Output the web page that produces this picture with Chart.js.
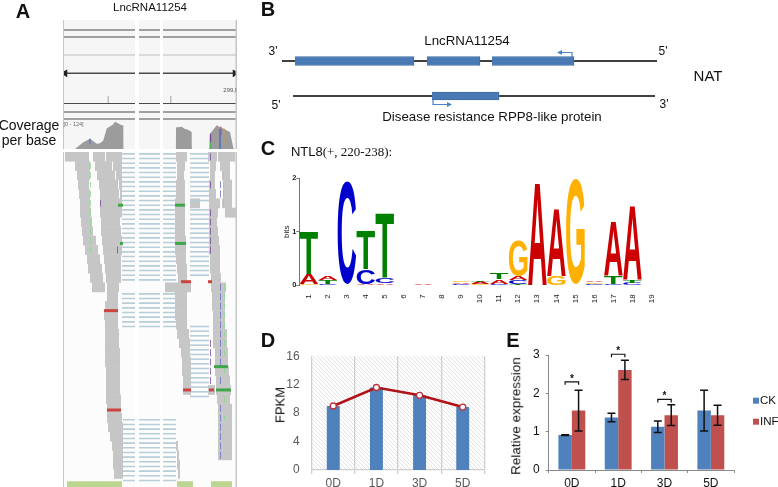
<!DOCTYPE html>
<html>
<head>
<meta charset="utf-8">
<title>LncRNA11254</title>
<script src="https://cdn.jsdelivr.net/npm/chart.js@4/dist/chart.umd.min.js"></script>
<style>
  html, body { margin: 0; padding: 0; background: #fff; }
  #page { position: relative; width: 778px; height: 487px; overflow: hidden; font-family: "Liberation Sans", sans-serif; color: #111; filter: blur(0.35px); }
  #page canvas { position: absolute; }
  .txt { position: absolute; white-space: nowrap; transform: translate(-50%, -50%); line-height: 1; }
</style>
</head>
<body>
<div id="page"></div>
<script>
// ---- panel A: window is measured in browser units, 0 to 174
const windowGaps = [[72, 76], [97, 100]];

const darkTrackLines = [
  [[0, 10], [174, 10]], [[0, 17], [174, 17]], [[0, 10], [0, 17]],
  [[0, 83.5], [174, 83.5]], [[0, 83.5], [0, 92]], [[0, 92], [174, 92]], [[0, 99], [174, 99]]
];
const lightTrackLines = [[[0, 35], [174, 35]], [[45.3, 76], [45.3, 83.5]], [[107.7, 76], [107.7, 83.5]]];
const spanArrow = [[2, 53.3], [172, 53.3]];

const coveragePoints = [
  [12, 0], [20.3, 29], [27, 44], [33.7, 22], [37, 25], [40.3, 36], [43.7, 88], [50, 105], [52, 117], [55, 110], [58.7, 102], [60.3, 102], [60.4, 0],
  [112.9, 0], [113, 92], [118.7, 95], [122, 85], [125, 82], [128.7, 73], [128.8, 0],
  [146.3, 0], [147, 65], [153.7, 102], [160, 88], [167, 73], [170.3, 5], [171, 0]
];
const coverageSnps = [
  { color: '#5b78c4', x: 27, from: 22, to: 44 },
  { color: '#49b35a', x: 147.5, from: 0, to: 30 },
  { color: '#7a4a9c', x: 147.5, from: 30, to: 65 },
  { color: '#4a64c8', x: 157, from: 0, to: 85 },
  { color: '#d0604a', x: 158, from: 60, to: 95 },
  { color: '#bb9a6a', x: 161, from: 15, to: 88 }
];

// one row of grey read pile-up per 9.3px, spans left to right
const readRows = [
  [[2, 26], [30, 42], [43, 59], [113, 124], [145, 154], [155, 172]],
  [[12, 27], [32, 49], [50, 59], [114, 122], [147, 153], [157, 167]],
  [[14, 27], [34, 52], [53, 59], [114, 121], [147, 152], [159, 167]],
  [[15, 26], [36, 55], [56, 59], [113, 122], [146, 152], [160, 169]],
  [[16, 27], [37, 56], [57, 59], [113, 122], [146, 153], [160, 169]],
  [[17, 27], [37, 59], [112, 122], [127, 137], [146, 157], [159, 169]],
  [[17, 28], [37, 59], [112, 122], [146, 155], [162, 173]],
  [[18, 29], [38, 57], [112, 122], [146, 154]],
  [[19, 30], [38, 58], [112, 122], [146, 155]],
  [[20, 33], [39, 59], [112, 123], [146, 156]],
  [[22, 35], [40, 59], [112, 123], [146, 157]],
  [[24, 37], [41, 58], [113, 123], [147, 157]],
  [[25, 39], [42, 58], [114, 124], [147, 157]],
  [[27, 40], [43, 58], [115, 124], [148, 158]],
  [[29, 42], [44, 56], [102, 128], [148, 163]],
  [[44, 55], [112, 124], [149, 162]],
  [[42, 55], [112, 124], [149, 162]],
  [[41, 55], [112, 124], [150, 162]],
  [[42, 55], [113, 124], [150, 162]],
  [[42, 56], [114, 126], [150, 164]],
  [[42, 56], [116, 127], [150, 164]],
  [[42, 57], [118, 127], [152, 165]],
  [[42, 57], [119, 128], [152, 165]],
  [[43, 57], [119, 128], [152, 166]],
  [[43, 57], [120, 128], [153, 167]],
  [[43, 57], [120, 128], [145, 152], [153, 168]],
  [[43, 58], [154, 167]],
  [[44, 58], [155, 169]],
  [[44, 59], [155, 169]],
  [[45, 60], [155, 169]],
  [[47, 60], [155, 169]],
  [[49, 60], [113, 115], [155, 169]],
  [[50, 60], [114, 116], [155, 169]],
  [[50, 60], [114, 117]],
  [[51, 60], [115, 117]]
];

// spliced read links: first line, last line, start, end. Lines are half a row apart
const intronBlocks = [
  [0, 27, 59, 113], [30, 37, 59, 113], [57, 70, 60, 113],
  [0, 10, 127, 146], [12, 26, 127, 146], [37, 52, 127, 146]
];

const greenMismatch = [
  [5.2, 55, 60], [5.2, 112, 122], [9.3, 57, 60], [9.3, 112, 123], [22.5, 151, 165], [25, 153, 168]
];
const redMismatch = [
  [16.5, 41, 55], [13.4, 118, 128], [13.4, 145, 149], [25, 120, 128], [25, 146, 151], [27.15, 44, 58]
];
const greenSnps = [
  [27, 1], [27, 2], [27, 3], [27, 4], [27, 5], [27, 6], [27, 7], [27, 8], [27, 9], [27, 10],
  [160, 2], [160, 3], [160, 4], [160, 5], [161, 14], [161, 15], [161, 16], [161, 17], [161, 18],
  [161, 19], [161, 20], [161, 21], [161, 23], [161, 26], [161, 28], [173, 6]
];
const blueSnps = [
  [157, 14], [157, 15], [157, 16], [157, 17], [157, 18], [157, 19], [157, 20], [157, 21], [157, 22],
  [157, 24], [157, 27], [157, 28], [157, 29], [157, 30], [157, 31], [157, 32], [157, 3], [157, 4]
];
const purpleSnps = [
  [147, 0], [147, 3], [147, 6], [147, 7], [147, 8], [147, 9], [147, 10],
  [147, 20], [147, 21], [147, 22], [147, 23], [147, 24], [37, 5], [54, 10]
];
const geneExons = [[4, 59], [114, 130], [148, 169]];

// ---- panel B
const strandLines = [[0, 375], [11, 373]];
const lncExons = [[13, 132], [145, 198], [210, 292]];
const proteinExons = [[150, 217]];
const arrowStart = [290, 151];
const arrowTip = [275, 170];
const arrowRow = [0, 1];

// ---- panel C: letters stacked bottom to top for positions 1..19
const logoPositions = ['1', '2', '3', '4', '5', '6', '7', '8', '9', '10', '11', '12', '13', '14', '15', '16', '17', '18', '19'];
const logoLetters = [
  ['G', 'C', 'C', 'A', 'A', '', 'A', '', 'C', 'G', 'C', 'T', 'A', 'G', 'G', 'C', 'C', 'C', ''],
  ['A', 'T', '', 'C', 'C', '', '', '', 'A', 'A', 'A', 'C', '', 'A', '', 'G', 'T', 'T', ''],
  ['T', 'A', '', 'T', 'T', '', '', '', 'G', 'T', 'T', 'A', '', '', '', 'A', 'A', 'A', ''],
  ['', '', '', '', '', '', '', '', '', '', '', 'G', '', '', '', '', '', '', '']
];
const logoBits = [
  [0.03, 0.02, 1.93, 0.02, 0.04, 0, 0.03, 0, 0.03, 0.03, 0.03, 0.03, 1.93, 0.18, 1.99, 0.03, 0.02, 0.05, 0],
  [0.19, 0.07, 0, 0.28, 0.1, 0, 0, 0, 0.03, 0.04, 0.08, 0.07, 0, 1.27, 0, 0.03, 0.15, 0.05, 0],
  [0.81, 0.07, 0, 0.72, 1.22, 0, 0, 0, 0.03, 0.03, 0.12, 0.07, 0, 0, 0, 0.03, 1.02, 1.38, 0],
  [0, 0, 0, 0, 0, 0, 0, 0, 0, 0, 0, 0.67, 0, 0, 0, 0, 0, 0, 0]
];
const logoTicks = [0, 1, 2];

// ---- panel D
const fpkmDays = ['0D', '1D', '3D', '5D'];
const fpkmValues = [9, 11.6, 10.5, 8.85];

// ---- panel E
const qpcrDays = ['0D', '1D', '3D', '5D'];
const ckValues = [0.91, 1.37, 1.13, 1.55];
const infValues = [1.55, 2.61, 1.43, 1.43];
const ckErrors = [0.01, 0.11, 0.15, 0.53];
const infErrors = [0.53, 0.25, 0.27, 0.26];
const sigBracketLevels = [2.3, 3.02, 1.84, null];

const COLORS = {
  blue: '#4f81bd',
  red: '#c0504d',
  exon: '#4a7ab5',
  exonEdge: '#3d6ba4',
  arrow: '#4a84c4',
  read: '#c6c6c6',
  intron: '#b7cdd8',
  grey: '#595959',
  dark: '#4a4a4a',
  A: '#cc0000',
  C: '#0000cc',
  G: '#ffb000',
  T: '#008000'
};
const FONT = '"Liberation Sans", sans-serif';
Chart.defaults.font.family = FONT;
Chart.defaults.animation = false;
Chart.defaults.layout.autoPadding = false;
Chart.defaults.plugins.legend.display = false;
Chart.defaults.plugins.tooltip.enabled = false;

const page = document.getElementById('page');

function addCanvas(left, top, width, height) {
  const c = document.createElement('canvas');
  c.width = width;
  c.height = height;
  c.style.cssText = `left:${left}px;top:${top}px;width:${width}px;height:${height}px`;
  page.appendChild(c);
  return c;
}

function addText(text, x, y, size, extra) {
  const d = document.createElement('div');
  d.className = 'txt';
  d.style.cssText = `left:${x}px;top:${y}px;font-size:${size}px;${extra || ''}`;
  d.innerHTML = text;
  page.appendChild(d);
  return d;
}

const pinWidth = w => axis => { axis.width = w; };
const pinHeight = h => axis => { axis.height = h; };

// plot background plus the white cuts and side rules of the browser window
function windowFrame(background) {
  return {
    id: 'windowFrame',
    beforeDatasetsDraw(chart) {
      const { ctx, chartArea: a } = chart;
      ctx.save();
      ctx.fillStyle = background;
      ctx.fillRect(a.left, a.top, a.right - a.left, a.bottom - a.top);
      ctx.restore();
    },
    afterDatasetsDraw(chart) {
      const { ctx, chartArea: a, scales: { x } } = chart;
      ctx.save();
      ctx.fillStyle = '#fff';
      windowGaps.forEach(g => {
        const l = x.getPixelForValue(g[0]);
        ctx.fillRect(l, a.top, x.getPixelForValue(g[1]) - l, a.bottom - a.top);
      });
      ctx.fillStyle = '#c6c6c6';
      ctx.fillRect(a.left, a.top, 1, a.bottom - a.top);
      ctx.fillRect(a.right - 1.5, a.top, 1.5, a.bottom - a.top);
      ctx.restore();
    }
  };
}

// bar charts turn offset on for their index axis, which would inset the rows
const hiddenAxis = (min, max, reverse) => ({ type: 'linear', display: false, offset: false, min, max, reverse: !!reverse });

// tracks above the coverage plot
const segment = (pts, color, width) => ({
  data: pts.map(p => ({ x: p[0], y: p[1] })),
  showLine: true,
  borderColor: color,
  borderWidth: width,
  pointRadius: 0
});

new Chart(addCanvas(63, 20, 174, 100), {
  type: 'scatter',
  data: {
    datasets: [
      {
        ...segment(spanArrow, COLORS.dark, 1.5),
        pointStyle: 'triangle',
        pointRadius: 3,
        pointRotation: [-90, 90],
        pointBackgroundColor: '#222',
        pointBorderColor: '#222'
      },
      ...darkTrackLines.map(s => segment(s, COLORS.dark, 1)),
      ...lightTrackLines.map(s => segment(s, '#bdbdbd', 1))
    ]
  },
  options: {
    responsive: false,
    scales: { x: hiddenAxis(0, 174), y: hiddenAxis(0, 100, true) }
  },
  plugins: [windowFrame('#f6f6f6')]
});

// coverage
new Chart(addCanvas(63, 120, 174, 29), {
  type: 'scatter',
  data: {
    datasets: [
      ...coverageSnps.map(s => segment([[s.x, s.from], [s.x, s.to]], s.color, 1.3)),
      {
        data: coveragePoints.map(p => ({ x: p[0], y: p[1] })),
        showLine: true,
        fill: 'origin',
        borderWidth: 0,
        backgroundColor: '#9c9c9c',
        pointRadius: 0
      }
    ]
  },
  options: {
    responsive: false,
    scales: { x: hiddenAxis(0, 174), y: hiddenAxis(0, 124) }
  },
  plugins: [windowFrame('#f6f6f6')]
});

// read pile-up
const toBar = (row, span) => ({ y: row, x: span });
const readBars = readRows.flatMap((spans, row) => spans.map(s => toBar(row, s)));
const intronBars = intronBlocks.flatMap(b => {
  const out = [];
  for (let line = b[0]; line <= b[1]; line++) out.push(toBar(line * 0.5 - 0.3, [b[2], b[3]]));
  return out;
});
const snpBars = list => list.map(s => toBar(s[1], [s[0], s[0] + 0.8]));
const rowBars = (data, color, thickness) => ({ data, backgroundColor: color, barThickness: thickness, grouped: false, inflateAmount: 0 });

new Chart(addCanvas(63, 152, 174, 335), {
  type: 'bar',
  data: {
    datasets: [
      rowBars(geneExons.map(s => toBar(35.1, s)), '#bcd58f', 6),
      rowBars(greenMismatch.map(m => toBar(m[0], [m[1], m[2]])), '#3ea648', 3),
      rowBars(redMismatch.map(m => toBar(m[0], [m[1], m[2]])), '#cc4440', 3),
      rowBars(snpBars(purpleSnps), '#7e4f9f', 7),
      rowBars(snpBars(blueSnps), '#6a72c6', 7),
      rowBars(snpBars(greenSnps), '#8fd78f', 6),
      rowBars(intronBars, COLORS.intron, 1.6),
      rowBars(readBars, COLORS.read, 9.8)
    ]
  },
  options: {
    responsive: false,
    indexAxis: 'y',
    scales: { x: hiddenAxis(0, 174), y: hiddenAxis(-0.5, 35.4, true) }
  },
  plugins: [windowFrame('#fcfcfc')]
});

// panel B gene models, bent arrows drawn through the same scales
const bentArrows = {
  id: 'bentArrows',
  afterDatasetsDraw(chart) {
    const { ctx, scales: { x, y } } = chart;
    ctx.save();
    ctx.strokeStyle = COLORS.arrow;
    ctx.fillStyle = COLORS.arrow;
    ctx.lineWidth = 1.2;
    arrowStart.forEach((start, i) => {
      const x0 = x.getPixelForValue(start);
      const x1 = x.getPixelForValue(arrowTip[i]);
      const dir = arrowRow[i] === 0 ? -1 : 1;
      const y0 = y.getPixelForValue(arrowRow[i]) + dir * 4;
      const y1 = y0 + dir * 4.5;
      const head = x1 > x0 ? -5 : 5;
      ctx.beginPath();
      ctx.moveTo(x0, y0);
      ctx.lineTo(x0, y1);
      ctx.lineTo(x1 + head, y1);
      ctx.stroke();
      ctx.beginPath();
      ctx.moveTo(x1, y1);
      ctx.lineTo(x1 + head, y1 - 2.5);
      ctx.lineTo(x1 + head, y1 + 2.5);
      ctx.closePath();
      ctx.fill();
    });
    ctx.restore();
  }
};
const exonSet = (spans, row, thickness) => ({
  data: spans.map(s => ({ y: row, x: s })),
  backgroundColor: COLORS.exon,
  borderColor: COLORS.exonEdge,
  borderWidth: 1,
  barThickness: thickness,
  grouped: false
});

new Chart(addCanvas(282, 40, 375, 70), {
  type: 'bar',
  data: {
    datasets: [
      exonSet(lncExons, 0, 9),
      exonSet(proteinExons, 1, 8),
      ...strandLines.map((s, row) => ({ data: [{ y: row, x: s }], backgroundColor: '#000', barThickness: 1.6, grouped: false, inflateAmount: 0 }))
    ]
  },
  options: {
    responsive: false,
    indexAxis: 'y',
    scales: { x: hiddenAxis(0, 375), y: hiddenAxis(-0.6, 1.4, true) }
  },
  plugins: [bentArrows]
});

// panel C sequence logo: stacked bars hold the heights, letters are stretched into them
const logoGlyphs = {
  id: 'logoGlyphs',
  afterDatasetsDraw(chart) {
    const { ctx } = chart;
    chart.data.datasets.forEach((ds, i) => {
      chart.getDatasetMeta(i).data.forEach((bar, j) => {
        const letter = logoLetters[i][j];
        if (!letter || !ds.data[j]) return;
        const { x, y, base, width } = bar.getProps(['x', 'y', 'base', 'width'], true);
        ctx.save();
        ctx.font = 'bold 100px "Liberation Sans"';
        const m = ctx.measureText(letter);
        const w = m.actualBoundingBoxLeft + m.actualBoundingBoxRight;
        const h = m.actualBoundingBoxAscent + m.actualBoundingBoxDescent;
        ctx.translate(x - width / 2, y);
        ctx.scale(width / w, (base - y) / h);
        ctx.fillStyle = COLORS[letter];
        ctx.fillText(letter, m.actualBoundingBoxLeft, m.actualBoundingBoxAscent);
        ctx.restore();
      });
    });
  }
};

new Chart(addCanvas(282, 172, 385, 134), {
  type: 'bar',
  data: {
    labels: logoPositions,
    datasets: logoBits.map(bits => ({
      data: bits,
      backgroundColor: 'transparent',
      barPercentage: 0.98,
      categoryPercentage: 1
    }))
  },
  options: {
    responsive: false,
    layout: { padding: { top: 6.3, right: 6 } },
    scales: {
      x: {
        stacked: true,
        grid: { display: false },
        border: { display: false },
        afterFit: pinHeight(20.7),
        ticks: { minRotation: 90, maxRotation: 90, autoSkip: false, padding: 1, color: '#222', font: { size: 8 } }
      },
      y: {
        stacked: true,
        min: 0,
        max: 2,
        afterFit: pinWidth(17.3),
        afterBuildTicks(axis) { axis.ticks = logoTicks.map(value => ({ value })); },
        grid: { drawOnChartArea: false, tickLength: 3, color: '#777' },
        border: { color: '#777' },
        title: { display: true, text: 'bits', font: { size: 8 }, padding: 0, color: '#222' },
        ticks: { padding: 0, color: '#222', font: { size: 7.5, weight: 'bold' } }
      }
    }
  },
  plugins: [logoGlyphs]
});

// panel D
function hatch(ctx) {
  const tile = document.createElement('canvas');
  tile.width = tile.height = 4;
  const t = tile.getContext('2d');
  t.strokeStyle = '#e0e0e0';
  t.lineWidth = 0.9;
  t.beginPath();
  t.moveTo(-1, -1);
  t.lineTo(5, 5);
  t.stroke();
  return ctx.createPattern(tile, 'repeat');
}

const hatchedPlot = {
  id: 'hatchedPlot',
  beforeDraw(chart) {
    const { ctx, chartArea: a } = chart;
    ctx.save();
    ctx.fillStyle = hatch(ctx);
    ctx.fillRect(a.left, a.top, a.right - a.left, a.bottom - a.top);
    ctx.restore();
  }
};

new Chart(addCanvas(270, 345, 220, 142), {
  type: 'bar',
  data: {
    labels: fpkmDays,
    datasets: [
      {
        type: 'line',
        data: fpkmValues,
        order: 1,
        borderColor: '#b01218',
        borderWidth: 2.5,
        tension: 0,
        pointRadius: 3,
        pointBorderWidth: 1.3,
        pointBackgroundColor: '#fff',
        pointBorderColor: '#c0303a'
      },
      {
        data: fpkmValues,
        order: 2,
        backgroundColor: COLORS.blue,
        barPercentage: 0.3,
        categoryPercentage: 1
      }
    ]
  },
  options: {
    responsive: false,
    layout: { padding: { top: 7.7, right: 5.7 } },
    scales: {
      x: {
        afterFit: pinHeight(17),
        grid: { color: '#cfcfcf', lineWidth: 1.3, tickLength: 4 },
        border: { color: '#cfcfcf', width: 1.3 },
        ticks: { color: COLORS.grey, font: { size: 12 }, padding: 2 }
      },
      y: {
        min: 0,
        max: 16,
        afterFit: pinWidth(41.7),
        grid: { display: false },
        border: { display: false },
        ticks: { stepSize: 4, color: COLORS.grey, font: { size: 12 }, padding: 4 }
      }
    }
  },
  plugins: [hatchedPlot]
});

// panel E, error bars, significance brackets and the legend go through the bars and y scale
const qpcrMarks = {
  id: 'qpcrMarks',
  afterDatasetsDraw(chart) {
    const { ctx, chartArea, scales: { y } } = chart;
    const ckBars = chart.getDatasetMeta(0).data;
    const infBars = chart.getDatasetMeta(1).data;
    ctx.save();
    ctx.strokeStyle = '#111';
    ctx.lineWidth = 1.5;
    const whisker = (bar, value, err) => {
      const top = y.getPixelForValue(value + err);
      const low = y.getPixelForValue(value - err);
      ctx.beginPath();
      ctx.moveTo(bar.x, top);
      ctx.lineTo(bar.x, low);
      ctx.moveTo(bar.x - 4, top);
      ctx.lineTo(bar.x + 4, top);
      ctx.moveTo(bar.x - 4, low);
      ctx.lineTo(bar.x + 4, low);
      ctx.stroke();
    };
    ckBars.forEach((bar, i) => whisker(bar, ckValues[i], ckErrors[i]));
    infBars.forEach((bar, i) => whisker(bar, infValues[i], infErrors[i]));
    ctx.lineWidth = 1.2;
    ctx.fillStyle = '#111';
    ctx.textAlign = 'center';
    ctx.textBaseline = 'middle';
    ctx.font = `bold 10px ${FONT}`;
    sigBracketLevels.forEach((level, i) => {
      if (level === null) return;
      const top = y.getPixelForValue(level);
      ctx.beginPath();
      ctx.moveTo(ckBars[i].x, top + 3);
      ctx.lineTo(ckBars[i].x, top);
      ctx.lineTo(infBars[i].x, top);
      ctx.lineTo(infBars[i].x, top + 3);
      ctx.stroke();
      ctx.fillText('*', (ckBars[i].x + infBars[i].x) / 2, top - 3);
    });
    ctx.textAlign = 'left';
    ctx.font = `11.5px ${FONT}`;
    chart.data.datasets.forEach((ds, i) => {
      const cy = (chartArea.top + chartArea.bottom) / 2 - 11.8 + i * 21;
      ctx.fillStyle = ds.backgroundColor;
      ctx.fillRect(chartArea.right + 19, cy - 3, 6, 6);
      ctx.fillStyle = '#111';
      ctx.fillText(ds.label, chartArea.right + 26, cy);
    });
    ctx.restore();
  }
};

new Chart(addCanvas(520, 340, 258, 147), {
  type: 'bar',
  data: {
    labels: qpcrDays,
    datasets: [
      { label: 'CK', data: ckValues, backgroundColor: COLORS.blue },
      { label: 'INF', data: infValues, backgroundColor: COLORS.red }
    ]
  },
  options: {
    responsive: false,
    layout: { padding: { top: 15, right: 44 } },
    datasets: { bar: { barPercentage: 1, categoryPercentage: 0.58 } },
    scales: {
      x: {
        afterFit: pinHeight(17),
        grid: { drawOnChartArea: false, tickLength: 3, color: '#888' },
        border: { color: '#888' },
        ticks: { color: '#111', font: { size: 12 }, padding: 3 }
      },
      y: {
        min: 0,
        max: 3,
        afterFit: pinWidth(28.7),
        grid: { drawOnChartArea: false, tickLength: 3, color: '#888' },
        border: { color: '#888' },
        ticks: { stepSize: 1, color: '#111', font: { size: 12 }, padding: 6 }
      }
    }
  },
  plugins: [qpcrMarks]
});

// text that sits outside the plots
[['A', 23, 11], ['B', 268, 9], ['C', 268, 148], ['D', 268, 340], ['E', 513, 340]].forEach(p => {
  addText(p[0], p[1], p[2], 20, 'font-weight:bold');
});
addText('LncRNA11254', 150, 8, 11.5);
addText('Coverage', 29, 125, 14);
addText('per base', 29, 139.5, 14);
addText('299,I', 230, 90, 6, 'color:#555');
addText('[0 - 124]', 73.5, 124.5, 5.5, 'color:#666');
addText('LncRNA11254', 467, 41, 13.3);
addText("3'", 273, 51, 12);
addText("5'", 663, 51, 12);
addText("5'", 276, 105, 12);
addText("3'", 664, 104, 12);
addText('NAT', 708, 75, 15);
addText('Disease resistance RPP8-like protein', 492, 117, 13.3);
addText('NTL8<span style="font-family:\'Liberation Serif\',serif">(+, 220-238):</span>', 341.5, 151, 13);
addText('FPKM', 280, 405, 13, 'transform:translate(-50%,-50%) rotate(-90deg)');
addText('Relative expression', 516, 416, 13.5, 'transform:translate(-50%,-50%) rotate(-90deg)');
</script>
</body>
</html>
